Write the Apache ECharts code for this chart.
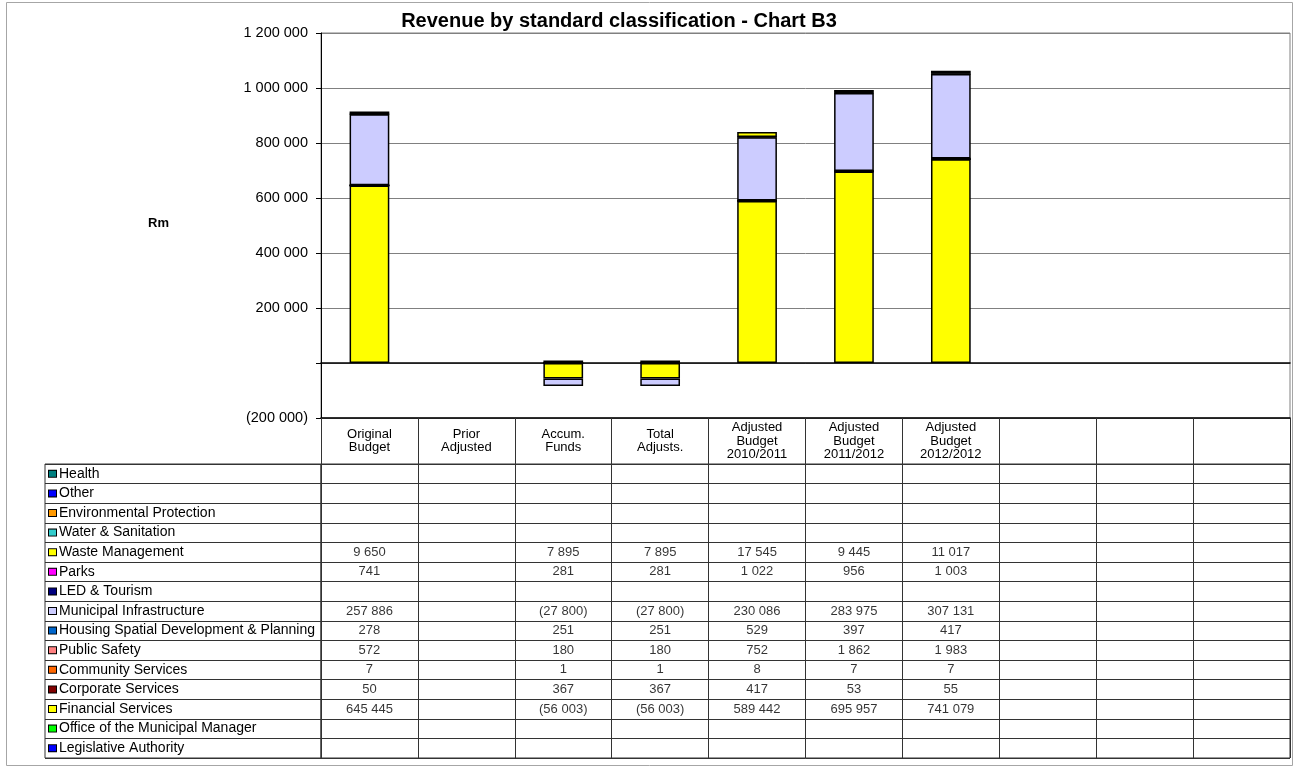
<!DOCTYPE html>
<html>
<head>
<meta charset="utf-8">
<script src="https://cdn.jsdelivr.net/npm/echarts@6/dist/echarts.min.js"></script>
<style>
  html, body { margin: 0; padding: 0; background: #fff; }
  #chart { width: 1298px; height: 767px; }
</style>
</head>
<body>
<div id="chart"></div>
<script>
// Column headings (the last three columns are empty placeholders)
const categories = [
  'Original\nBudget', 'Prior\nAdjusted', 'Accum.\nFunds', 'Total\nAdjusts.',
  'Adjusted\nBudget\n2010/2011', 'Adjusted\nBudget\n2011/2012', 'Adjusted\nBudget\n2012/2012',
  ' ', '  ', '   '
];

// Y-axis ticks
const yMin = -200000;
const yMax = 1200000;
const yStep = 200000;

// Revenue per classification, one value per column (null = blank cell)
const health                  = [null, null, null, null, null, null, null, null, null, null];
const other                   = [null, null, null, null, null, null, null, null, null, null];
const environmentalProtection = [null, null, null, null, null, null, null, null, null, null];
const waterSanitation         = [null, null, null, null, null, null, null, null, null, null];
const wasteManagement         = [9650, null, 7895, 7895, 17545, 9445, 11017, null, null, null];
const parks                   = [741, null, 281, 281, 1022, 956, 1003, null, null, null];
const ledTourism              = [null, null, null, null, null, null, null, null, null, null];
const municipalInfrastructure = [257886, null, -27800, -27800, 230086, 283975, 307131, null, null, null];
const housingPlanning         = [278, null, 251, 251, 529, 397, 417, null, null, null];
const publicSafety            = [572, null, 180, 180, 752, 1862, 1983, null, null, null];
const communityServices       = [7, null, 1, 1, 8, 7, 7, null, null, null];
const corporateServices       = [50, null, 367, 367, 417, 53, 55, null, null, null];
const financialServices       = [645445, null, -56003, -56003, 589442, 695957, 741079, null, null, null];
const municipalManager        = [null, null, null, null, null, null, null, null, null, null];
const legislativeAuthority    = [null, null, null, null, null, null, null, null, null, null];

// Table rows, top to bottom
const rowNames = [
  'Health', 'Other', 'Environmental Protection', 'Water & Sanitation', 'Waste Management',
  'Parks', 'LED & Tourism', 'Municipal Infrastructure', 'Housing Spatial Development & Planning',
  'Public Safety', 'Community Services', 'Corporate Services', 'Financial Services',
  'Office of the Municipal Manager', 'Legislative Authority'
];
const rowValues = [
  health, other, environmentalProtection, waterSanitation, wasteManagement,
  parks, ledTourism, municipalInfrastructure, housingPlanning,
  publicSafety, communityServices, corporateServices, financialServices,
  municipalManager, legislativeAuthority
];
const rowColors = [
  '#008080', '#0000FF', '#FF9900', '#33CCCC', '#FFFF00',
  '#FF00FF', '#000080', '#CCCCFF', '#0066CC',
  '#FF8080', '#FF6600', '#800000', '#FFFF00',
  '#00FF00', '#0000FF'
];

const FONT = '"Liberation Sans", Arial, sans-serif';

function fmtNum(v) {
  const s = Math.round(Math.abs(v)).toString().replace(/\B(?=(\d{3})+(?!\d))/g, ' ');
  return v < 0 ? '(' + s + ')' : s;
}

// Stacked bars: the last table row sits at the bottom of the stack
const barSeries = [];
for (let i = rowNames.length - 1; i >= 0; i--) {
  barSeries.push({
    name: rowNames[i],
    type: 'bar',
    stack: 'revenue',
    xAxisIndex: 0,
    yAxisIndex: 0,
    barWidth: '41%',
    data: rowValues[i],
    itemStyle: { color: rowColors[i], borderColor: '#000', borderWidth: 1.5 }
  });
}

// Data table cells
const cellData = [];
rowValues.forEach((vals, r) => {
  vals.forEach((v, c) => { if (v !== null) cellData.push([c, r, v]); });
});

// Legend key styles for the row headers
const rich = { t: { fontSize: 14, color: '#000', fontFamily: FONT, padding: [0, 0, 0, 3] } };
rowColors.forEach((col, i) => {
  rich['k' + i] = { width: 7, height: 6, backgroundColor: col, borderColor: '#000', borderWidth: 1 };
});

const chart = echarts.init(document.getElementById('chart'), null, { renderer: 'canvas' });
chart.setOption({
  animation: false,
  backgroundColor: '#fff',
  textStyle: { fontFamily: FONT },
  title: [
    {
      text: 'Revenue by standard classification - Chart B3',
      left: 619, top: 11, padding: 0, textAlign: 'center',
      textStyle: { fontSize: 20, fontWeight: 'bold', color: '#000', fontFamily: FONT }
    },
    {
      text: 'Rm', left: 148, top: 217, padding: 0,
      textStyle: { fontSize: 13, fontWeight: 'bold', color: '#000', fontFamily: FONT }
    }
  ],
  graphic: [{
    type: 'rect', silent: true, z: -1,
    shape: { x: 6.5, y: 2.5, width: 1286, height: 763 },
    style: { fill: 'none', stroke: '#a6a6a6', lineWidth: 1 }
  }],
  grid: [
    { left: 321, right: 8, top: 33, height: 385, show: true, borderColor: '#808080', borderWidth: 1, backgroundColor: '#fff' },
    { left: 321, right: 8, top: 464, height: 294, show: true, borderColor: '#333', borderWidth: 1 },
    { left: 45, width: 276, top: 464, height: 294, show: true, borderColor: '#333', borderWidth: 1 }
  ],
  xAxis: [
    { // zero line
      gridIndex: 0, type: 'category', data: categories, position: 'bottom',
      axisLine: { onZero: true, lineStyle: { color: '#000', width: 1.5 } },
      axisTick: { show: false }, axisLabel: { show: false }, splitLine: { show: false }
    },
    { // column headings below the plot
      gridIndex: 0, type: 'category', data: categories, position: 'bottom',
      axisLine: { onZero: false, lineStyle: { color: '#000', width: 1.5 } },
      axisTick: { show: true, interval: 0, length: 46, lineStyle: { color: '#333', width: 1 } },
      axisLabel: {
        interval: 0, fontSize: 13, lineHeight: 13.5, color: '#000',
        verticalAlign: 'middle', margin: 23, fontFamily: FONT
      },
      splitLine: { show: false }
    },
    { // table columns
      gridIndex: 1, type: 'category', data: categories,
      axisLine: { show: false }, axisTick: { show: false }, axisLabel: { show: false },
      splitLine: { show: true, interval: 0, lineStyle: { color: '#333', width: 1 } }
    },
    { gridIndex: 2, type: 'value', show: false }
  ],
  yAxis: [
    {
      gridIndex: 0, type: 'value', min: yMin, max: yMax, interval: yStep,
      axisLine: { show: true, lineStyle: { color: '#000', width: 1 } },
      axisTick: { show: true, length: 5, lineStyle: { color: '#000' } },
      axisLabel: {
        fontSize: 14.5, color: '#000', margin: 13, fontFamily: FONT,
        formatter: v => (v === 0 ? '' : fmtNum(v))
      },
      splitLine: { show: true, lineStyle: { color: '#808080', width: 1 } }
    },
    { // table rows
      gridIndex: 1, type: 'category', data: rowNames, inverse: true,
      axisLine: { show: false }, axisTick: { show: false }, axisLabel: { show: false },
      splitLine: { show: true, interval: 0, lineStyle: { color: '#333', width: 1 } }
    },
    { // row headers with legend keys
      gridIndex: 2, type: 'category', data: rowNames, inverse: true,
      axisLine: { show: false }, axisTick: { show: false },
      axisLabel: {
        inside: true, interval: 0, margin: 4, align: 'left',
        formatter: (val, idx) => '{k' + idx + '|}{t|' + val + '}',
        rich: rich
      },
      splitLine: { show: true, interval: 0, lineStyle: { color: '#333', width: 1 } }
    }
  ],
  series: barSeries.concat([{
    type: 'scatter',
    xAxisIndex: 2, yAxisIndex: 1,
    symbolSize: 1,
    itemStyle: { color: 'rgba(0,0,0,0)' },
    data: cellData,
    label: {
      show: true, position: 'inside', fontSize: 13, color: '#000', fontFamily: FONT,
      formatter: p => fmtNum(p.value[2])
    }
  }])
});
</script>
</body>
</html>
